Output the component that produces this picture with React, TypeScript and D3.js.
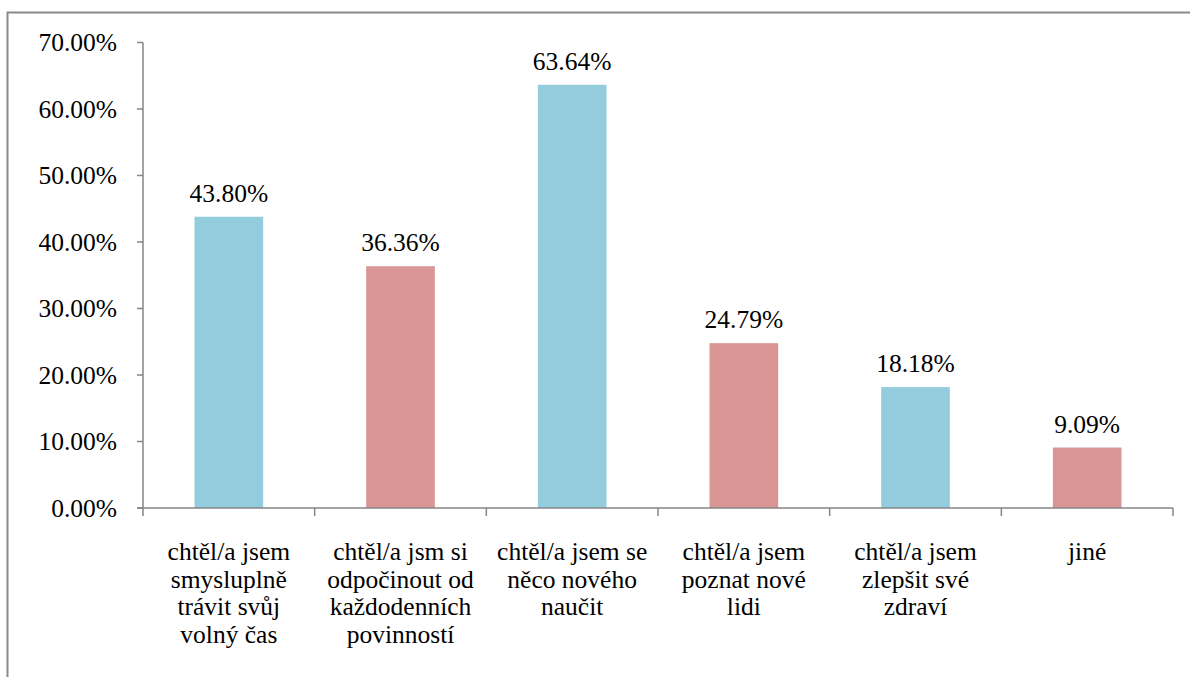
import React from "react";
import * as d3 from "d3";

const categories: string[][] = [
  ["chtěl/a jsem", "smysluplně", "trávit svůj", "volný čas"],
  ["chtěl/a jsm si", "odpočinout od", "každodenních", "povinností"],
  ["chtěl/a jsem se", "něco nového", "naučit"],
  ["chtěl/a jsem", "poznat nové", "lidi"],
  ["chtěl/a jsem", "zlepšit své", "zdraví"],
  ["jiné"],
];
const values: number[] = [43.8, 36.36, 63.64, 24.79, 18.18, 9.09];
const valueLabels: string[] = ["43.80%", "36.36%", "63.64%", "24.79%", "18.18%", "9.09%"];
const yTicks: number[] = [0, 10, 20, 30, 40, 50, 60, 70];
const colors: string[] = ["#93CDDD", "#D99694"];

export default function App() {
  const W = 1190;
  const H = 677;
  const left = 143;
  const right = 1173;
  const top = 42.5;
  const bottom = 508;
  const fs = 25.5;
  const axisColor = "#868686";
  const textStyle: React.CSSProperties = {
    fontFamily: '"Liberation Serif", "Times New Roman", Times, "DejaVu Serif", serif',
    fontSize: fs,
  };

  const idx = categories.map((_, i) => i);
  const x = d3.scaleBand<number>().domain(idx).range([left, right]).paddingInner(0.6).paddingOuter(0.3);
  const step = (right - left) / categories.length;
  const y = d3.scaleLinear().domain([0, 70]).range([bottom, top]);

  return (
    <svg width={W} height={H} style={{ position: "absolute", left: 0, top: 0, background: "#fff" }}>
      <rect x={7.5} y={12.5} width={W + 20} height={H + 20} fill="#fff" stroke="#8a8a8a" strokeWidth={2} />
      {values.map((v, i) => (
        <rect key={"b" + i} x={x(i)} y={y(v)} width={x.bandwidth()} height={bottom - y(v)} fill={colors[i % 2]} />
      ))}
      <line x1={left} x2={left} y1={top} y2={bottom} stroke={axisColor} strokeWidth={1.5} />
      {yTicks.map((t) => (
        <g key={"yt" + t}>
          <line x1={left - 6} x2={left} y1={y(t)} y2={y(t)} stroke={axisColor} strokeWidth={1.5} />
          <text x={117} y={y(t)} dy="0.35em" textAnchor="end" style={textStyle} fill="#000">
            {t.toFixed(2) + "%"}
          </text>
        </g>
      ))}
      <line x1={left - 6} x2={right} y1={bottom} y2={bottom} stroke={axisColor} strokeWidth={1.5} />
      {d3.range(categories.length + 1).map((k) => (
        <line key={"xt" + k} x1={left + k * step} x2={left + k * step} y1={bottom} y2={bottom + 8} stroke={axisColor} strokeWidth={1.5} />
      ))}
      {values.map((v, i) => (
        <text key={"v" + i} x={x(i)! + x.bandwidth() / 2} y={y(v) - 15} textAnchor="middle" style={textStyle} fill="#000">
          {valueLabels[i]}
        </text>
      ))}
      {categories.map((lines, i) => (
        <text key={"c" + i} x={x(i)! + x.bandwidth() / 2} y={560} textAnchor="middle" style={textStyle} fill="#000">
          {lines.map((l, j) => (
            <tspan key={j} x={x(i)! + x.bandwidth() / 2} y={560 + j * 27.7}>
              {l}
            </tspan>
          ))}
        </text>
      ))}
    </svg>
  );
}
